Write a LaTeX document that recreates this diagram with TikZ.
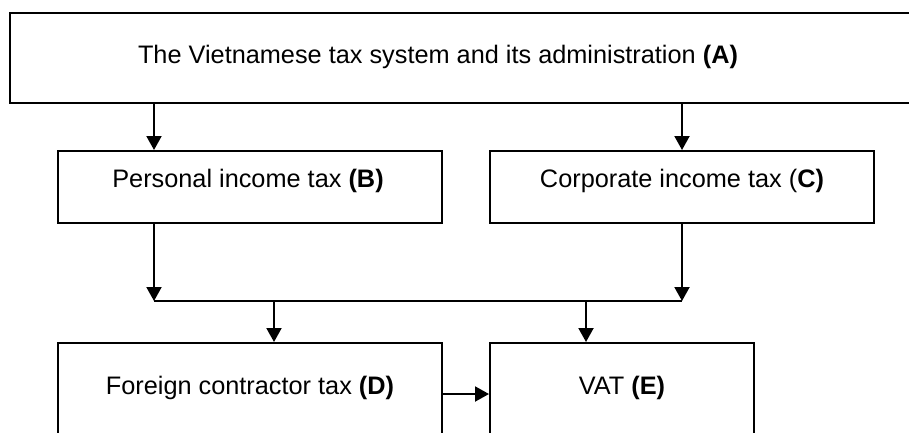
\documentclass[tikz,border=0pt]{standalone}
\usepackage{fontspec}
\setmainfont{Liberation Sans}
\usetikzlibrary{arrows.meta}
\tikzset{
  box/.style={draw,line width=2pt,rectangle,inner sep=0pt},
  lbl/.style={inner sep=0pt,font=\fontsize{25.3}{29}\selectfont},
}
\begin{document}
\begin{tikzpicture}[>={Triangle[length=14pt,width=15pt]},x=1pt,y=-1pt,line width=2pt]
		\useasboundingbox (0,0) rectangle (909,433);
		\clip (0,0) rectangle (909,433);
		% boxes
		\node[box,minimum width=950pt,minimum height=90pt] (A) at (485,58) {};
		\node[box,minimum width=384pt,minimum height=72pt] (B) at (250,187) {};
		\node[box,minimum width=384pt,minimum height=72pt] (C) at (682,187) {};
		\node[box,minimum width=384pt,minimum height=102pt] (D) at (250,394) {};
		\node[box,minimum width=264pt,minimum height=102pt] (E) at (622,394) {};
		% texts
		\node[lbl] (tA) at (438,57) {The Vietnamese tax system and its administration \textbf{(A)}};
		\node[lbl] (tB) at (248,181) {Personal income tax \textbf{(B)}};
		\node[lbl] (tC) at (682,181) {Corporate income tax (\textbf{C)}};
		\node[lbl] (tD) at (250,388) {Foreign contractor tax \textbf{(D)}};
		\node[lbl] (tE) at (622,388) {VAT \textbf{(E)}};
		% junction line
		\coordinate (jB) at (154,301);
		\coordinate (jC) at (682,301);
		\coordinate (jD) at (274,301);
		\coordinate (jE) at (586,301);
		\draw[->] (jB |- A.south) -- (jB |- B.north);
		\draw[->] (C.north |- A.south) -- (C.north);
		\draw[->] (jB |- B.south) -- (jB);
		\draw[->] (C.south) -- (jC);
		\draw (jB) -- (jC);
		\draw[->] (jD) -- (jD |- D.north);
		\draw[->] (jE) -- (jE |- E.north);
		\draw[->] (D.east) -- (E.west);
\end{tikzpicture}
\end{document}
